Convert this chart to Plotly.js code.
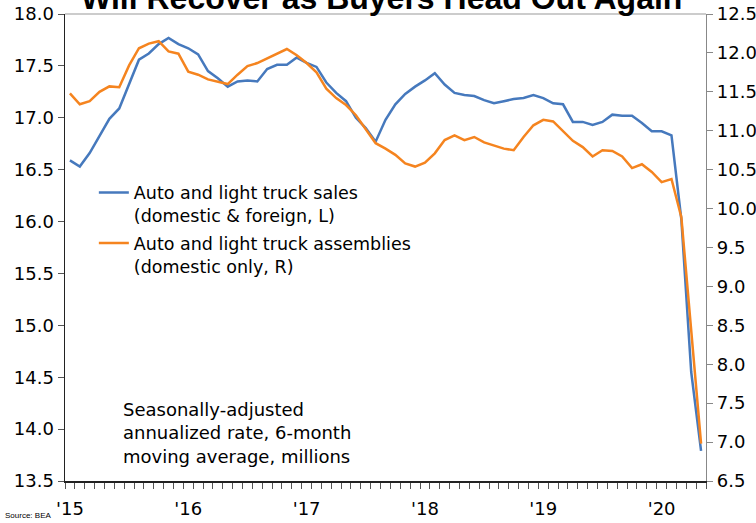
<!DOCTYPE html>
<html>
<head>
<meta charset="utf-8">
<script src="https://cdn.plot.ly/plotly-3.0.1.min.js"></script>
<style>
html,body{margin:0;padding:0;background:#fff;}
#chart{width:756px;height:523px;}
</style>
</head>
<body>
<div id="chart"></div>
<script>
// Months Jan 2015 .. May 2020
const months = [
 "2015-01","2015-02","2015-03","2015-04","2015-05","2015-06","2015-07","2015-08","2015-09","2015-10","2015-11","2015-12",
 "2016-01","2016-02","2016-03","2016-04","2016-05","2016-06","2016-07","2016-08","2016-09","2016-10","2016-11","2016-12",
 "2017-01","2017-02","2017-03","2017-04","2017-05","2017-06","2017-07","2017-08","2017-09","2017-10","2017-11","2017-12",
 "2018-01","2018-02","2018-03","2018-04","2018-05","2018-06","2018-07","2018-08","2018-09","2018-10","2018-11","2018-12",
 "2019-01","2019-02","2019-03","2019-04","2019-05","2019-06","2019-07","2019-08","2019-09","2019-10","2019-11","2019-12",
 "2020-01","2020-02","2020-03","2020-04","2020-05"
];
// Auto and light truck sales (domestic & foreign), left axis, millions
const sales = [
 16.59,16.53,16.66,16.82,16.99,17.09,17.33,17.56,17.62,17.71,17.77,17.71,
 17.67,17.61,17.45,17.38,17.30,17.35,17.36,17.35,17.47,17.51,17.51,17.58,
 17.53,17.49,17.34,17.24,17.16,17.00,16.90,16.77,16.98,17.13,17.23,17.30,
 17.36,17.43,17.32,17.24,17.22,17.21,17.17,17.14,17.16,17.18,17.19,17.22,
 17.19,17.14,17.13,16.96,16.96,16.93,16.96,17.03,17.02,17.02,16.95,16.87,
 16.87,16.83,16.02,14.55,13.79
];
// Auto and light truck assemblies (domestic only), right axis, millions
const assemblies = [
 11.48,11.34,11.38,11.50,11.57,11.56,11.84,12.06,12.12,12.15,12.02,11.99,
 11.76,11.72,11.66,11.63,11.60,11.72,11.83,11.87,11.93,11.99,12.05,11.97,
 11.87,11.75,11.54,11.42,11.33,11.20,11.02,10.84,10.77,10.69,10.58,10.54,
 10.59,10.71,10.88,10.94,10.88,10.92,10.85,10.81,10.77,10.75,10.92,11.07,
 11.14,11.12,11.00,10.87,10.79,10.67,10.75,10.74,10.67,10.52,10.57,10.47,
 10.34,10.38,9.89,8.45,6.98
];
const yearTickLabels = ["'15","'16","'17","'18","'19","'20"];
const seriesNames = [
 "Auto and light truck sales<br>(domestic & foreign, L)",
 "Auto and light truck assemblies<br>(domestic only, R)"
];
const titleText = "Will Recover as Buyers Head Out Again";
const noteText = "Seasonally-adjusted<br>annualized rate, 6-month<br>moving average, millions";

const xIdx = months.map((m, i) => i);
const yearTickVals = yearTickLabels.map((t, k) => k * 12);

const FONT = "DejaVu Sans";

const traces = [
 {x: xIdx, y: sales, type: "scatter", mode: "lines", name: seriesNames[0], legendgroup: "a",
  customdata: months, line: {color: "#4679bd", width: 2.5}, yaxis: "y"},
 {x: xIdx, y: assemblies, type: "scatter", mode: "lines", name: seriesNames[1], legendgroup: "b",
  customdata: months, line: {color: "#f5841f", width: 2.5}, yaxis: "y2"}
];

const layout = {
 width: 756, height: 523,
 margin: {l: 65, r: 50, t: 14, b: 42},
 paper_bgcolor: "#fff", plot_bgcolor: "#fff",
 font: {family: FONT, size: 17, color: "#000"},
 showlegend: true,
 legend: {x: 0.045, y: 0.656, xanchor: "left", yanchor: "top", bgcolor: "rgba(0,0,0,0)",
          font: {family: FONT, size: 17.5, color: "#000"}, valign: "top", tracegroupgap: 2,
          itemwidth: 30},
 xaxis: {range: [-0.5, 64.5], showgrid: false, zeroline: false,
         showline: true, linecolor: "#222", linewidth: 1.5,
         tickmode: "array", tickvals: yearTickVals, ticktext: yearTickLabels,
         ticks: "outside", ticklen: 11, tickcolor: "rgba(0,0,0,0)",
         tickfont: {family: FONT, size: 18, color: "#000"},
         minor: {tick0: -0.5, dtick: 1, ticks: "outside", ticklen: 6, tickcolor: "#555", tickwidth: 1}},
 yaxis: {range: [13.5, 18.0], dtick: 0.5, tick0: 13.5, tickformat: ".1f", showgrid: false, zeroline: false,
         showline: true, linecolor: "#222", linewidth: 1.5,
         ticks: "outside", ticklen: 6, tickcolor: "#555",
         tickfont: {family: FONT, size: 18, color: "#000"}},
 yaxis2: {range: [6.5, 12.5], dtick: 0.5, tick0: 6.5, tickformat: ".1f", overlaying: "y", side: "right",
          showgrid: false, zeroline: false, showline: true, linecolor: "#888", linewidth: 1.2,
          ticks: "outside", ticklen: 6, tickcolor: "#888",
          tickfont: {family: FONT, size: 18, color: "#000"}},
 shapes: [
  {type: "line", xref: "paper", yref: "paper", x0: 0, x1: 1, y0: 1, y1: 1, line: {color: "#999", width: 1.2}}
 ],
 annotations: [
  {text: "<b>" + titleText + "</b>", xref: "paper", yref: "paper", x: 0.493, y: 1, xanchor: "center",
   yanchor: "bottom", yshift: -4, showarrow: false,
   font: {family: "Liberation Sans", size: 32, color: "#000"}},
  {text: noteText, xref: "paper", yref: "paper", x: 0.088, y: 0.103, xanchor: "left", yanchor: "middle",
   align: "left", showarrow: false, font: {family: FONT, size: 18, color: "#000"}},
  {text: "Source: BEA", xref: "paper", yref: "paper", x: -0.097, y: -0.074, xanchor: "left", yanchor: "middle",
   showarrow: false, font: {family: "Liberation Sans Narrow, Liberation Sans", size: 8, color: "#000"}}
 ]
};

Plotly.newPlot("chart", traces, layout, {staticPlot: true, displayModeBar: false});
</script>
</body>
</html>
